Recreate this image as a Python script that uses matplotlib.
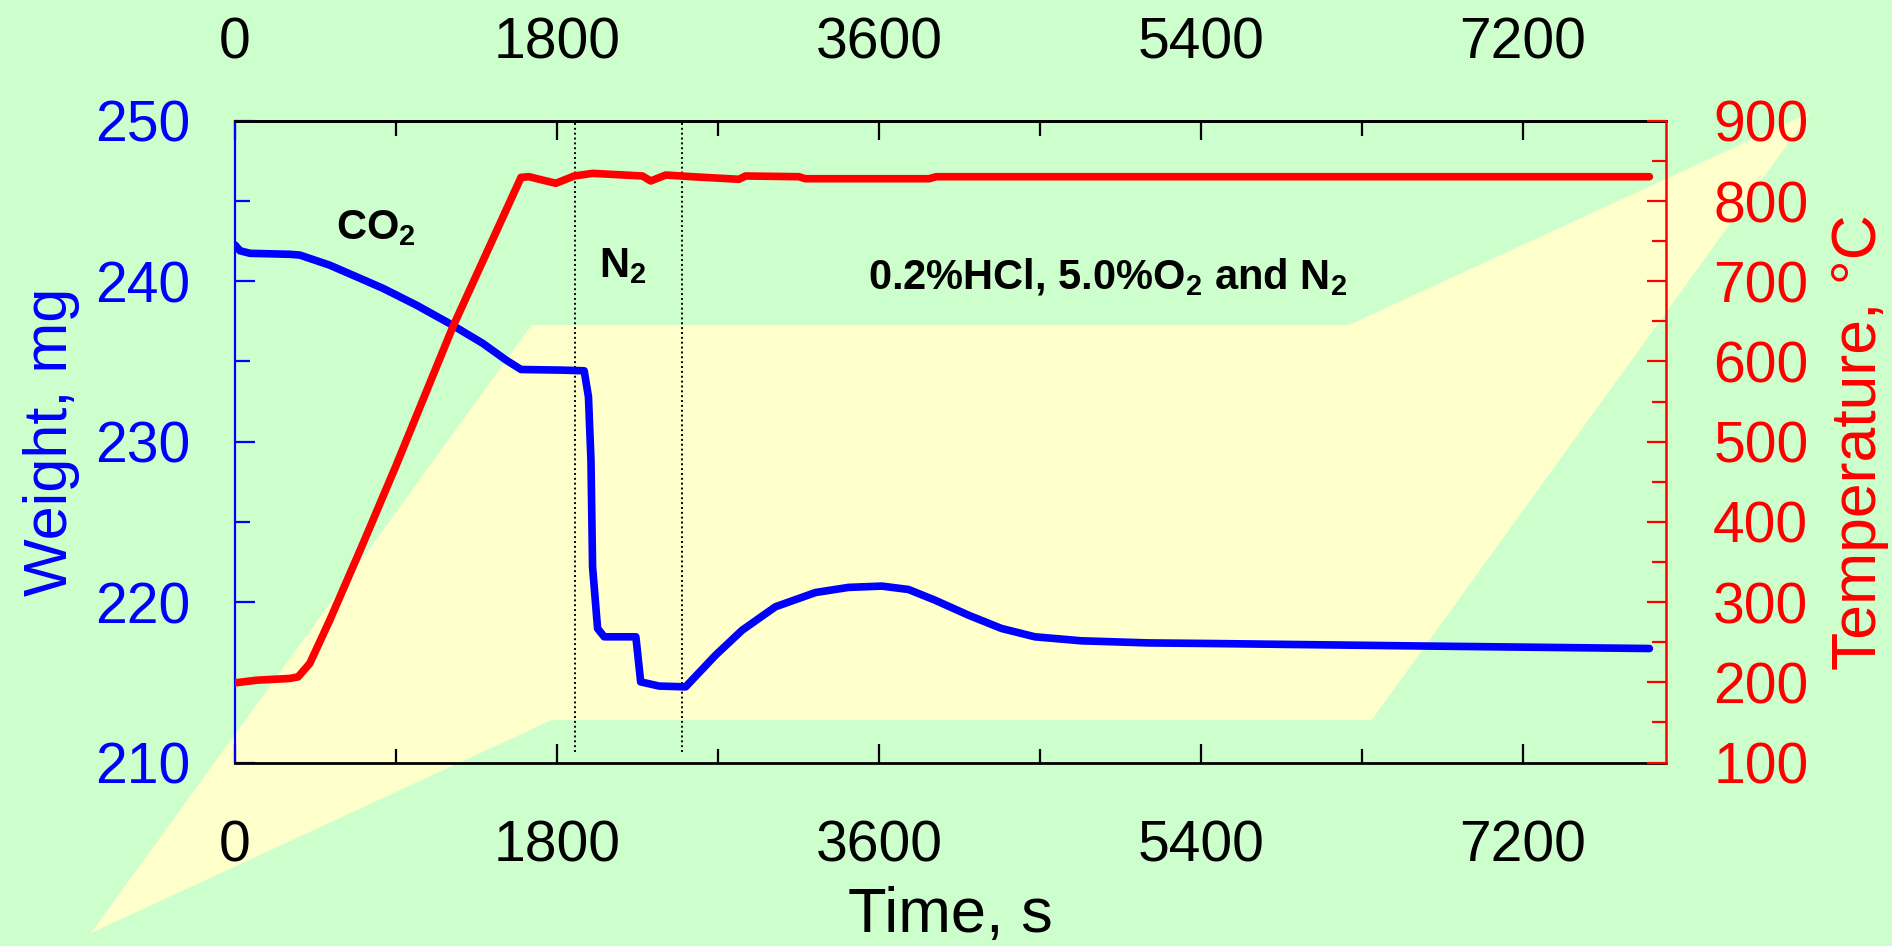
import matplotlib
matplotlib.use("Agg")
import matplotlib.pyplot as plt
from matplotlib.ticker import MultipleLocator
from matplotlib.patches import Polygon

# ---- data -------------------------------------------------------------
time_weight = [0, 28, 84, 307, 363, 530, 679, 827, 1013, 1199, 1385, 1515,
               1599, 1831, 1952, 1976, 1990, 1999, 2027, 2064, 2241, 2268,
               2371, 2519, 2687, 2835, 3021, 3245, 3430, 3616, 3765, 3914,
               4100, 4285, 4472, 4732, 5104, 5476, 6686, 7907]
weight_mg = [242.26, 241.9, 241.74, 241.68, 241.63, 241.0, 240.28, 239.56,
             238.52, 237.37, 236.13, 235.09, 234.5, 234.46, 234.42, 232.8,
             228.85, 222.2, 218.36, 217.84, 217.84, 215.03, 214.77, 214.72,
             216.7, 218.25, 219.71, 220.6, 220.92, 221.0, 220.79, 220.12,
             219.19, 218.36, 217.84, 217.59, 217.46, 217.42, 217.26, 217.11]

time_temp = [0, 121, 307, 353, 418, 530, 716, 900, 1218, 1599, 1645, 1701,
             1794, 1896, 1999, 2278, 2324, 2408, 2557, 2817, 2854, 3152,
             3189, 3375, 3880, 3920, 7907]
temp_c = [199.4, 202.7, 204.9, 206.9, 223.6, 277.6, 373.2, 470.0, 643.3,
          829.5, 830.3, 827.1, 822.1, 831.2, 834.5, 831.2, 825.0, 832.4,
          830.3, 827.1, 831.2, 830.3, 827.8, 827.8, 827.8, 830.3, 830.3]

gas_switch_times = [1903, 2501]
x_ticks = [0, 1800, 3600, 5400, 7200]

# ---- style ------------------------------------------------------------
plt.rcParams['font.family'] = ['Liberation Sans', 'DejaVu Sans']
plt.rcParams['mathtext.fontset'] = 'custom'
plt.rcParams['mathtext.rm'] = 'Liberation Sans:bold'
plt.rcParams['mathtext.it'] = 'Liberation Sans:bold'
plt.rcParams['mathtext.bf'] = 'Liberation Sans:bold'

W, H = 1892, 946
fig = plt.figure(figsize=(W / 100, H / 100), dpi=100)
fig.patch.set_facecolor('#CCFFCC')

# decorative pale-yellow band behind the plot (figure pixel coords, y down)
band = [(91, 933), (531.7, 325), (1349, 325), (1810.5, 112.3),
        (1371.7, 720), (551.7, 720)]
fig.patches.append(Polygon([(x / W, 1 - y / H) for x, y in band],
                           closed=True, transform=fig.transFigure,
                           facecolor='#FFFFCC', edgecolor='none', zorder=-5))

left, right, top, bottom = 235, 1666, 120.8, 762.6
ax = fig.add_axes([left / W, 1 - bottom / H, (right - left) / W, (bottom - top) / H])
ax.set_facecolor('none')
ax2 = ax.twinx()
ax2.set_facecolor('none')

LW = 5.5

# ---- weight axis ------------------------------------------------------
ax.plot(time_weight, weight_mg, color='blue', lw=LW, solid_capstyle='round',
        solid_joinstyle='round', zorder=3)
for t in gas_switch_times:
    ax.plot([t, t], [210.67, 249.85], color='black', lw=1.4, ls=(0, (1, 1.5)),
            zorder=2)

ax.set_xlim(0, 8000)
ax.set_ylim(210, 250)
ax.set_xticks(x_ticks)
ax.xaxis.set_minor_locator(MultipleLocator(900))
ax.yaxis.set_major_locator(MultipleLocator(10))
ax.yaxis.set_minor_locator(MultipleLocator(5))

ax.tick_params(axis='x', which='both', direction='in', top=False, bottom=True,
               labeltop=False, labelbottom=True, colors='black', width=1.6,
               labelsize=41)
ax.tick_params(axis='x', which='major', length=13.5, pad=41)
ax.tick_params(axis='x', which='minor', length=10)

# time scale repeated along the top edge
top_x = ax.secondary_xaxis('top')
top_x.set_xticks(x_ticks)
top_x.xaxis.set_minor_locator(MultipleLocator(900))
top_x.tick_params(axis='x', which='both', direction='in', colors='black',
                  width=1.6, labelsize=41)
top_x.tick_params(axis='x', which='major', length=13.5, pad=36)
top_x.tick_params(axis='x', which='minor', length=10.5)
top_x.spines['top'].set_linewidth(2)

ax.tick_params(axis='y', which='both', direction='in', left=True, right=False,
               colors='blue', width=1.6, labelsize=41, pad=32)
ax.tick_params(axis='y', which='major', length=14.4)
ax.tick_params(axis='y', which='minor', length=10.8)

ax.spines['left'].set_color('blue')
ax.spines['left'].set_linewidth(1.6)
ax.spines['right'].set_visible(False)
ax.spines['top'].set_linewidth(2)
ax.spines['bottom'].set_linewidth(2)

ax.set_xlabel('Time, s', fontsize=45.5)
ax.xaxis.set_label_coords(0.5, -0.192)
ax.set_ylabel('Weight, mg', fontsize=44, color='blue')
ax.yaxis.set_label_coords(-0.108, 0.5)

# ---- temperature axis ---------------------------------------------------
ax2.plot(time_temp, temp_c, color='red', lw=LW, solid_capstyle='round',
         solid_joinstyle='round')
ax2.set_ylim(100, 900)
ax2.yaxis.set_major_locator(MultipleLocator(100))
ax2.yaxis.set_minor_locator(MultipleLocator(50))
ax2.tick_params(axis='y', which='both', direction='in', colors='red',
                width=1.6, labelsize=41, pad=34)
ax2.tick_params(axis='y', which='major', length=13.7)
ax2.tick_params(axis='y', which='minor', length=10)
for s in ('left', 'top', 'bottom'):
    ax2.spines[s].set_visible(False)
ax2.spines['right'].set_color('red')
ax2.spines['right'].set_linewidth(1.8)
ax2.set_ylabel('Temperature, °C', fontsize=45, color='red')
ax2.yaxis.set_label_coords(1.1145, 0.5)

# ---- atmosphere annotations --------------------------------------------
ax.text(564, 242.63, 'CO$_2$', fontsize=30, fontweight='bold', zorder=4)
ax.text(2033, 240.28, 'N$_2$', fontsize=30, fontweight='bold', zorder=4)
ax.text(3537, 239.5, '0.2%HCl, 5.0%O$_2$ and N$_2$', fontsize=30,
        fontweight='bold', zorder=4)

fig.savefig('out.png', dpi=100, facecolor=fig.get_facecolor())
